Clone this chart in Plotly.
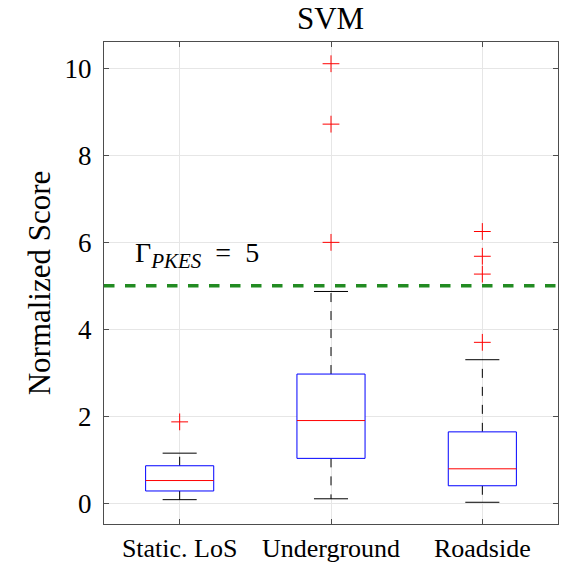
import plotly.graph_objects as go

categories = ["Static. LoS", "Underground", "Roadside"]
q1 = [0.28, 1.03, 0.40]
median = [0.52, 1.90, 0.79]
q3 = [0.86, 2.97, 1.64]
lower_whisker = [0.08, 0.10, 0.02]
upper_whisker = [1.15, 4.87, 3.30]
outliers = [[1.87], [6.00, 8.72, 10.11], [3.70, 5.27, 5.68, 6.25]]
threshold = 5
y_ticks = [0, 2, 4, 6, 8, 10]

xs = [1, 2, 3]
half_box = 0.225
half_cap = 0.1125
FONT = "Liberation Serif"

fig = go.Figure()

for i, x in enumerate(xs):
    fig.add_trace(go.Scatter(x=[x, x, None, x, x], y=[q3[i], upper_whisker[i], None, q1[i], lower_whisker[i]],
                             mode="lines", line=dict(color="black", width=1, dash="dash"),
                             showlegend=False, hoverinfo="skip"))
    fig.add_trace(go.Scatter(x=[x - half_cap, x + half_cap, None, x - half_cap, x + half_cap],
                             y=[upper_whisker[i], upper_whisker[i], None, lower_whisker[i], lower_whisker[i]],
                             mode="lines", line=dict(color="black", width=1),
                             showlegend=False, hoverinfo="skip"))
    fig.add_trace(go.Scatter(x=[x - half_box, x + half_box, x + half_box, x - half_box, x - half_box],
                             y=[q1[i], q1[i], q3[i], q3[i], q1[i]],
                             mode="lines", line=dict(color="#0000FF", width=1),
                             fill="toself", fillcolor="rgba(255,255,255,1)",
                             showlegend=False, hoverinfo="skip"))
    fig.add_trace(go.Scatter(x=[x - half_box, x + half_box], y=[median[i], median[i]],
                             mode="lines", line=dict(color="#FF0000", width=1),
                             showlegend=False, hoverinfo="skip"))
    fig.add_trace(go.Scatter(x=[x] * len(outliers[i]), y=outliers[i], mode="markers",
                             marker=dict(symbol="cross-thin", size=12, line=dict(color="#FF0000", width=1)),
                             showlegend=False, hoverinfo="skip"))

fig.add_trace(go.Scatter(x=[0.5, 3.5], y=[threshold, threshold], mode="lines",
                         line=dict(color="#228B22", width=3.5, dash="dash"),
                         showlegend=False, hoverinfo="skip"))

fig.add_annotation(x=0.69, y=5.72, xref="x", yref="y", xanchor="left", yanchor="middle",
                   text="Γ<sub><span style='font-size:21px'><i>PKES</i></span></sub>&nbsp;&nbsp;=&nbsp;&nbsp;" + str(threshold),
                   showarrow=False,
                   font=dict(family=FONT, size=28, color="black"))

axis_common = dict(showline=True, linecolor="#4d4d4d", linewidth=1, mirror="ticks",
                   ticks="inside", ticklen=5, tickcolor="#4d4d4d",
                   showgrid=True, gridcolor="#e6e6e6", gridwidth=1, zeroline=False)

fig.update_layout(
    width=564, height=566,
    margin=dict(l=104, r=6, t=42, b=42, autoexpand=False),
    paper_bgcolor="white", plot_bgcolor="white",
    title=dict(text="SVM", x=0.586, xanchor="center", y=0.968, yanchor="middle",
               font=dict(family=FONT, size=31, color="black")),
    xaxis=dict(range=[0.5, 3.5], tickvals=xs, ticktext=categories, ticklabelstandoff=1,
               tickfont=dict(family=FONT, size=26, color="black"), **axis_common),
    yaxis=dict(range=[-0.48, 10.61], tickvals=y_ticks, ticktext=[str(v) for v in y_ticks],
               ticklabelstandoff=6, tickfont=dict(family=FONT, size=27, color="black"),
               title=dict(text="Normalized Score", standoff=4,
                          font=dict(family=FONT, size=31, color="black")),
               **axis_common),
)

fig.write_html("out.html", config={"displayModeBar": False},
               post_script="document.body.style.margin='0px';document.body.style.overflow='hidden';")
